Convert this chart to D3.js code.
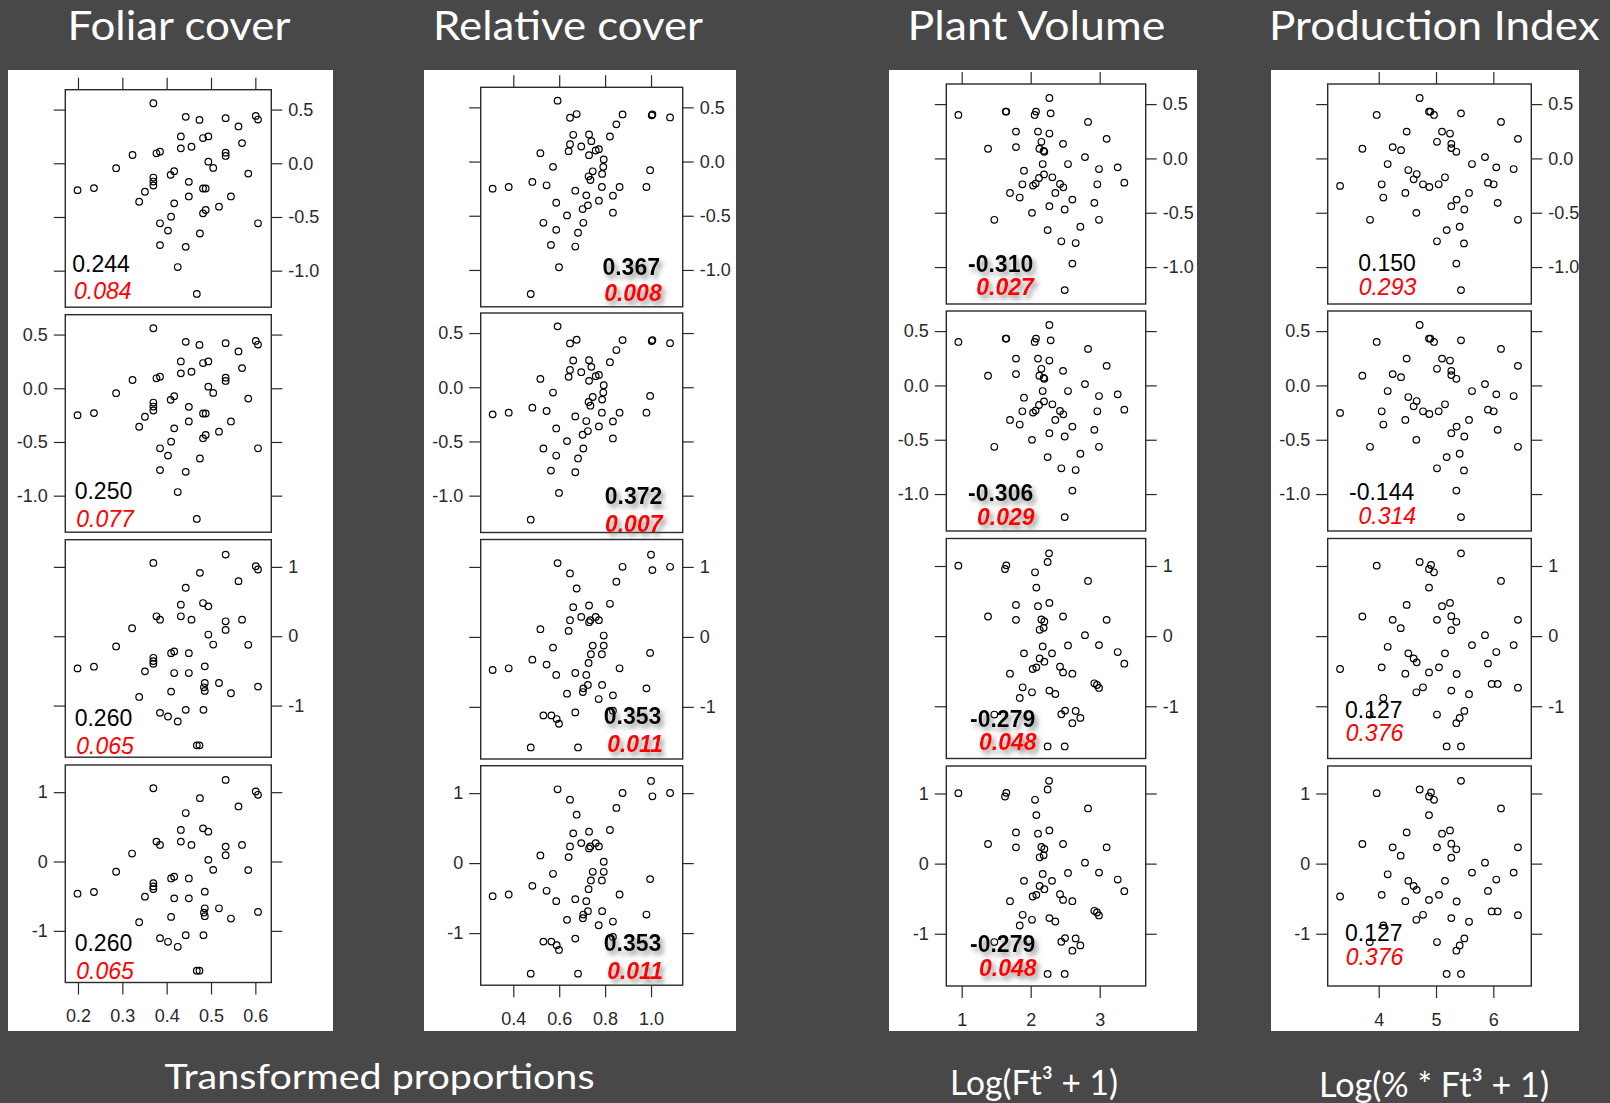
<!DOCTYPE html>
<html>
<head>
<meta charset="utf-8">
<title>Correlation panels</title>
<script src="https://cdnjs.cloudflare.com/ajax/libs/d3/7.8.5/d3.min.js"></script>
<style>
  body { margin: 0; background: #484848; }
  svg { display: block; }
</style>
</head>
<body>
<svg id="chart" width="1610" height="1103"></svg>
<script>
// ---- data ----
const columnTitles = ["Foliar cover", "Relative cover", "Plant Volume", "Production Index"];
const axisTitles = ["Transformed proportions", "Log(Ft\u00B3 + 1)", "Log(% * Ft\u00B3 + 1)"];

// correlation coefficient and p value printed in each panel (rows 1-4)
const rValues = [
  ["0.244", "0.250", "0.260", "0.260"],
  ["0.367", "0.372", "0.353", "0.353"],
  ["-0.310", "-0.306", "-0.279", "-0.279"],
  ["0.150", "-0.144", "0.127", "0.127"]
];
const pValues = [
  ["0.084", "0.077", "0.065", "0.065"],
  ["0.008", "0.007", "0.011", "0.011"],
  ["0.027", "0.029", "0.048", "0.048"],
  ["0.293", "0.314", "0.376", "0.376"]
];

const xTicks = [[0.2, 0.3, 0.4, 0.5, 0.6], [0.4, 0.6, 0.8, 1.0], [1, 2, 3], [4, 5, 6]];
const xTickLabels = [["0.2", "0.3", "0.4", "0.5", "0.6"], ["0.4", "0.6", "0.8", "1.0"], ["1", "2", "3"], ["4", "5", "6"]];
const yTicksTop = [0.5, 0.0, -0.5, -1.0];
const yTickLabelsTop = ["0.5", "0.0", "-0.5", "-1.0"];
const yTicksBottom = [1, 0, -1];
const yTickLabelsBottom = ["1", "0", "-1"];

// points of rows 1-2 (same in both rows) and rows 3-4 (same in both rows)
const foliarTop = [[0.370,0.559],[0.443,0.432],[0.474,0.404],[0.533,0.420],[0.562,0.343],[0.601,0.441],[0.606,0.407],[0.432,0.250],[0.482,0.235],[0.494,0.250],[0.570,0.188],[0.432,0.139],[0.456,0.154],[0.377,0.093],[0.385,0.108],[0.323,0.077],[0.533,0.099],[0.533,0.068],[0.494,0.015],[0.505,-0.043],[0.286,-0.046],[0.417,-0.074],[0.409,-0.108],[0.584,-0.096],[0.370,-0.133],[0.370,-0.170],[0.370,-0.207],[0.450,-0.173],[0.199,-0.250],[0.236,-0.231],[0.351,-0.265],[0.482,-0.235],[0.488,-0.235],[0.338,-0.358],[0.450,-0.309],[0.545,-0.309],[0.417,-0.373],[0.518,-0.404],[0.482,-0.466],[0.488,-0.435],[0.410,-0.497],[0.385,-0.559],[0.403,-0.627],[0.606,-0.559],[0.475,-0.654],[0.385,-0.762],[0.443,-0.778],[0.425,-0.966],[0.468,-1.216]];
const foliarBottom = [[0.533,1.177],[0.370,1.057],[0.601,1.010],[0.606,0.962],[0.475,0.914],[0.562,0.794],[0.443,0.699],[0.432,0.455],[0.482,0.478],[0.494,0.431],[0.377,0.287],[0.385,0.239],[0.432,0.287],[0.456,0.239],[0.322,0.115],[0.533,0.215],[0.533,0.091],[0.570,0.239],[0.494,0.024],[0.505,-0.120],[0.286,-0.148],[0.584,-0.124],[0.410,-0.244],[0.417,-0.220],[0.450,-0.244],[0.370,-0.311],[0.370,-0.359],[0.370,-0.397],[0.199,-0.464],[0.236,-0.440],[0.351,-0.507],[0.417,-0.531],[0.450,-0.531],[0.486,-0.435],[0.486,-0.675],[0.484,-0.737],[0.486,-0.789],[0.518,-0.675],[0.545,-0.823],[0.606,-0.727],[0.410,-0.799],[0.338,-0.876],[0.385,-1.105],[0.403,-1.158],[0.425,-1.230],[0.443,-1.062],[0.483,-1.062],[0.468,-1.574],[0.474,-1.574]];

const relativeTop = [[0.593,0.562],[0.647,0.404],[0.676,0.438],[0.876,0.435],[1.003,0.426],[1.006,0.435],[1.083,0.407],[0.849,0.343],[0.661,0.247],[0.730,0.250],[0.740,0.188],[0.821,0.231],[0.647,0.160],[0.641,0.096],[0.696,0.139],[0.759,0.102],[0.773,0.114],[0.730,0.059],[0.518,0.077],[0.794,0.019],[0.792,-0.049],[0.573,-0.049],[0.746,-0.090],[0.787,-0.114],[0.728,-0.136],[0.736,-0.170],[0.996,-0.080],[0.310,-0.250],[0.380,-0.235],[0.483,-0.188],[0.545,-0.219],[0.670,-0.269],[0.786,-0.235],[0.863,-0.235],[0.980,-0.235],[0.718,-0.312],[0.834,-0.315],[0.587,-0.380],[0.773,-0.361],[0.725,-0.404],[0.702,-0.438],[0.634,-0.497],[0.834,-0.472],[0.531,-0.565],[0.705,-0.565],[0.587,-0.630],[0.682,-0.657],[0.564,-0.769],[0.670,-0.784],[0.599,-0.975],[0.476,-1.222]];
const relativeBottom = [[1.000,1.174],[0.593,1.055],[0.876,1.002],[1.006,0.955],[1.083,1.002],[0.647,0.907],[0.849,0.788],[0.676,0.692],[0.661,0.425],[0.730,0.449],[0.821,0.473],[0.647,0.239],[0.696,0.286],[0.730,0.210],[0.736,0.239],[0.759,0.286],[0.773,0.239],[0.518,0.110],[0.641,0.086],[0.794,0.019],[0.746,-0.124],[0.794,-0.124],[0.573,-0.153],[0.738,-0.248],[0.786,-0.248],[0.996,-0.229],[0.728,-0.372],[0.483,-0.325],[0.545,-0.396],[0.310,-0.473],[0.380,-0.449],[0.863,-0.449],[0.587,-0.544],[0.670,-0.516],[0.718,-0.544],[0.725,-0.687],[0.705,-0.735],[0.703,-0.788],[0.787,-0.687],[0.980,-0.735],[0.634,-0.811],[0.834,-0.835],[0.772,-0.888],[0.531,-1.122],[0.566,-1.122],[0.589,-1.174],[0.599,-1.241],[0.670,-1.079],[0.834,-1.055],[0.476,-1.580],[0.682,-1.580]];

const volumeTop = [[2.271,0.556],[0.952,0.400],[1.638,0.431],[1.647,0.431],[2.077,0.431],[2.058,0.400],[2.290,0.415],[2.831,0.336],[1.787,0.247],[2.106,0.247],[2.271,0.229],[2.155,0.153],[2.469,0.134],[3.101,0.180],[1.382,0.089],[1.787,0.104],[2.126,0.089],[2.188,0.070],[2.198,0.061],[2.787,0.012],[2.174,-0.052],[2.541,-0.052],[2.990,-0.098],[3.261,-0.082],[1.903,-0.113],[2.193,-0.147],[2.121,-0.180],[2.314,-0.174],[1.879,-0.238],[2.034,-0.250],[2.072,-0.232],[2.425,-0.235],[2.473,-0.266],[2.966,-0.238],[3.357,-0.223],[1.700,-0.318],[1.841,-0.360],[2.357,-0.318],[2.604,-0.379],[2.271,-0.440],[2.923,-0.409],[2.493,-0.470],[2.019,-0.501],[1.473,-0.565],[2.990,-0.565],[2.246,-0.660],[2.720,-0.629],[2.444,-0.763],[2.652,-0.779],[2.604,-0.968],[2.493,-1.212]];
const volumeBottom = [[2.266,1.180],[2.246,1.057],[0.952,1.005],[1.647,1.009],[1.628,0.957],[2.063,0.910],[2.831,0.787],[2.082,0.692],[1.787,0.445],[2.106,0.427],[2.271,0.474],[1.382,0.280],[1.787,0.232],[2.155,0.237],[2.198,0.209],[2.188,0.118],[2.130,0.090],[2.469,0.280],[3.101,0.232],[2.787,0.014],[2.174,-0.147],[2.541,-0.133],[2.990,-0.128],[3.261,-0.227],[1.903,-0.246],[2.309,-0.246],[3.357,-0.393],[2.130,-0.318],[2.198,-0.365],[2.029,-0.469],[2.082,-0.445],[2.425,-0.436],[2.469,-0.517],[2.604,-0.536],[1.700,-0.536],[2.923,-0.673],[2.961,-0.697],[2.990,-0.739],[1.884,-0.730],[2.019,-0.801],[2.271,-0.777],[2.357,-0.825],[1.841,-0.882],[1.473,-1.118],[2.444,-1.114],[2.498,-1.062],[2.652,-1.066],[2.720,-1.166],[2.604,-1.242],[2.246,-1.573],[2.493,-1.573]];

const productionTop = [[4.715,0.556],[3.965,0.400],[4.878,0.431],[4.901,0.431],[4.965,0.400],[5.436,0.415],[6.134,0.336],[4.488,0.247],[5.105,0.247],[5.244,0.229],[5.017,0.153],[5.267,0.134],[5.267,0.095],[5.355,0.061],[6.430,0.180],[3.715,0.089],[4.244,0.104],[4.390,0.076],[5.855,0.012],[4.157,-0.052],[5.628,-0.052],[6.052,-0.082],[6.355,-0.098],[4.517,-0.107],[4.663,-0.144],[4.610,-0.192],[5.157,-0.174],[3.326,-0.253],[4.052,-0.238],[4.773,-0.238],[4.884,-0.263],[5.047,-0.238],[5.907,-0.223],[6.006,-0.238],[4.081,-0.360],[4.465,-0.318],[5.576,-0.318],[5.360,-0.379],[5.267,-0.440],[6.076,-0.409],[5.494,-0.470],[4.657,-0.501],[3.849,-0.565],[6.430,-0.565],[5.186,-0.660],[5.413,-0.629],[5.017,-0.763],[5.488,-0.782],[5.355,-0.968],[5.436,-1.212]];
const productionBottom = [[5.436,1.180],[3.965,1.005],[4.715,1.057],[4.913,1.014],[4.878,0.957],[4.965,0.910],[6.134,0.787],[4.878,0.692],[4.488,0.445],[5.105,0.427],[5.244,0.474],[3.715,0.280],[4.244,0.232],[5.017,0.232],[5.267,0.284],[5.355,0.204],[5.267,0.085],[6.430,0.232],[4.384,0.114],[5.855,0.014],[5.628,-0.128],[6.355,-0.128],[4.157,-0.152],[4.517,-0.246],[4.610,-0.318],[4.663,-0.374],[5.157,-0.246],[6.052,-0.227],[5.907,-0.389],[3.326,-0.469],[4.052,-0.445],[4.465,-0.536],[4.878,-0.517],[5.052,-0.445],[5.360,-0.540],[5.971,-0.682],[6.076,-0.682],[6.430,-0.735],[4.773,-0.730],[4.657,-0.801],[5.267,-0.777],[5.576,-0.829],[4.081,-0.882],[3.843,-1.118],[5.017,-1.118],[5.494,-1.066],[5.413,-1.166],[5.355,-1.242],[5.186,-1.573],[5.436,-1.573]];

const pointsTop = [foliarTop, relativeTop, volumeTop, productionTop];
const pointsBottom = [foliarBottom, relativeBottom, volumeBottom, productionBottom];

// ---- layout ----
const W = 1610, H = 1103;
const yDomainTop = [-1.34, 0.685];
const yDomainBottom = [-1.745, 1.392];

// one entry per column: white card, plot box, x domain, row tops, label spots
const layout = [
  { card: [8, 70, 333, 1031], x0: 65.3, x1: 271.3, xDomain: [0.1714, 0.636], tops: [89.7, 314.7, 539.7, 765], h: 217.5,
    anchor: "start", bold: false,
    labels: [[72.3, 272, 74, 299], [74.7, 498.7, 76.3, 526.7], [74.7, 725.7, 76.3, 754.3], [74.7, 950.7, 76.3, 979.3]] },
  { card: [424, 70, 736, 1031], x0: 480.7, x1: 682.7, xDomain: [0.258, 1.138], tops: [87.3, 313, 539.5, 765.7], h: 219.5,
    anchor: "end", bold: true,
    labels: [[660, 274.7, 661.7, 301.3], [662.3, 504, 662.5, 532], [661.3, 724.3, 663, 752.3], [661.3, 951, 663, 979]] },
  { card: [889, 70, 1197, 1031], x0: 946.3, x1: 1145.7, xDomain: [0.777, 3.667], tops: [84, 311, 538.5, 766], h: 220,
    anchor: "start", bold: true,
    labels: [[968, 272, 976.3, 295.3], [968, 501, 977, 524.5], [970, 726.7, 979, 750], [970, 952, 979, 975.5]] },
  { card: [1271, 70, 1579, 1031], x0: 1327.7, x1: 1531.3, xDomain: [3.11, 6.663], tops: [84, 311, 538.5, 766], h: 220,
    anchor: "start", bold: false,
    labels: [[1358.3, 271.3, 1358.7, 294.7], [1349, 500, 1358.5, 523.7], [1345, 717.5, 1345.7, 740.5], [1345, 941, 1345.7, 965]] }
];

const titleSpots = [[67.5, 223], [433, 270], [907.6, 257.7], [1269, 330.6]];
const axisTitleSpots = [[164.5, 430, 1089], [950, 168, 1095], [1319, 230, 1097]];

const tickFont = "'Liberation Sans', Arial, sans-serif";
const slideFont = "Lato, 'Open Sans', sans-serif";

const svg = d3.select("#chart");
svg.append("rect").attr("width", W).attr("height", H).attr("fill", "#484848");

const defs = svg.append("defs");
const shadow = defs.append("filter").attr("id", "shadow")
  .attr("x", "-20%").attr("y", "-40%").attr("width", "150%").attr("height", "200%");
shadow.append("feGaussianBlur").attr("in", "SourceAlpha").attr("stdDeviation", 2.6).attr("result", "blur");
shadow.append("feOffset").attr("in", "blur").attr("dx", 3).attr("dy", 4).attr("result", "off");
shadow.append("feFlood").attr("flood-color", "#6f6f6f").attr("flood-opacity", 0.75);
shadow.append("feComposite").attr("in2", "off").attr("operator", "in").attr("result", "shade");
const merge = shadow.append("feMerge");
merge.append("feMergeNode").attr("in", "shade");
merge.append("feMergeNode").attr("in", "SourceGraphic");

function styleAxis(sel) {
  sel.select(".domain").remove();
  sel.selectAll(".tick line").attr("stroke", "#2a2a2a").attr("stroke-width", 1.2);
  sel.selectAll(".tick text").attr("fill", "#2a2a2a")
    .attr("font-family", tickFont).attr("font-size", "18px");
}

layout.forEach(function(L, ci) {
  const c = L.card;
  defs.append("clipPath").attr("id", "clip" + ci)
    .append("rect").attr("x", c[0]).attr("y", c[1]).attr("width", c[2] - c[0]).attr("height", c[3] - c[1]);

  const g = svg.append("g").attr("clip-path", "url(#clip" + ci + ")");
  g.append("rect").attr("x", c[0]).attr("y", c[1]).attr("width", c[2] - c[0]).attr("height", c[3] - c[1])
    .attr("fill", "#ffffff");

  const x = d3.scaleLinear().domain(L.xDomain).range([L.x0, L.x1]);

  for (let r = 0; r < 4; r++) {
    const top = L.tops[r], bottom = top + L.h;
    const upper = r < 2;
    const y = d3.scaleLinear().domain(upper ? yDomainTop : yDomainBottom).range([bottom, top]);
    const yt = upper ? yTicksTop : yTicksBottom;
    const ytl = upper ? yTickLabelsTop : yTickLabelsBottom;
    const panel = g.append("g");

    // left axis: labels on rows 2 and 4
    panel.append("g").attr("transform", "translate(" + L.x0 + ",0)")
      .call(d3.axisLeft(y).tickValues(yt).tickSize(11.5).tickPadding(6)
        .tickFormat(function(d, i) { return r % 2 === 1 ? ytl[i] : ""; }))
      .call(styleAxis);
    // right axis: labels on rows 1 and 3
    panel.append("g").attr("transform", "translate(" + L.x1 + ",0)")
      .call(d3.axisRight(y).tickValues(yt).tickSize(11).tickPadding(6)
        .tickFormat(function(d, i) { return r % 2 === 0 ? ytl[i] : ""; }))
      .call(styleAxis);
    if (r === 0) {
      panel.append("g").attr("transform", "translate(0," + top + ")")
        .call(d3.axisTop(x).tickValues(xTicks[ci]).tickSize(12).tickFormat(""))
        .call(styleAxis);
    }
    if (r === 3) {
      panel.append("g").attr("transform", "translate(0," + bottom + ")")
        .call(d3.axisBottom(x).tickValues(xTicks[ci]).tickSize(12).tickPadding(15)
          .tickFormat(function(d, i) { return xTickLabels[ci][i]; }))
        .call(styleAxis);
    }

    panel.append("rect").attr("x", L.x0).attr("y", top)
      .attr("width", L.x1 - L.x0).attr("height", L.h)
      .attr("fill", "none").attr("stroke", "#2a2a2a").attr("stroke-width", 1.4);

    panel.selectAll("circle")
      .data(upper ? pointsTop[ci] : pointsBottom[ci])
      .enter()
      .append("circle")
      .attr("cx", function(d) { return x(d[0]); })
      .attr("cy", function(d) { return y(d[1]); })
      .attr("r", 3.3)
      .attr("fill", "none")
      .attr("stroke", "#000")
      .attr("stroke-width", 1.2);

    const p = L.labels[r];
    panel.append("text")
      .attr("x", p[0]).attr("y", p[1])
      .attr("text-anchor", L.anchor)
      .attr("font-family", tickFont).attr("font-size", "23px")
      .attr("font-weight", L.bold ? "bold" : "normal")
      .attr("filter", L.bold ? "url(#shadow)" : null)
      .attr("fill", "#000")
      .text(rValues[ci][r]);
    panel.append("text")
      .attr("x", p[2]).attr("y", p[3])
      .attr("text-anchor", L.anchor)
      .attr("font-family", tickFont).attr("font-size", "23px")
      .attr("font-weight", L.bold ? "bold" : "normal")
      .attr("font-style", "italic")
      .attr("filter", L.bold ? "url(#shadow)" : null)
      .attr("fill", "#ff0000")
      .text(pValues[ci][r]);
  }
});

// column titles
svg.selectAll("text.title")
  .data(columnTitles)
  .enter()
  .append("text")
  .attr("class", "title")
  .attr("x", function(d, i) { return titleSpots[i][0]; })
  .attr("y", 39.5)
  .attr("textLength", function(d, i) { return titleSpots[i][1]; })
  .attr("lengthAdjust", "spacingAndGlyphs")
  .attr("font-family", slideFont).attr("font-size", "41px")
  .attr("fill", "#ffffff")
  .text(function(d) { return d; });

// axis titles under the columns
svg.selectAll("text.axtitle")
  .data(axisTitles)
  .enter()
  .append("text")
  .attr("class", "axtitle")
  .attr("x", function(d, i) { return axisTitleSpots[i][0]; })
  .attr("y", function(d, i) { return axisTitleSpots[i][2]; })
  .attr("textLength", function(d, i) { return axisTitleSpots[i][1]; })
  .attr("lengthAdjust", "spacingAndGlyphs")
  .attr("font-family", slideFont).attr("font-size", "35px")
  .attr("fill", "#ffffff")
  .text(function(d) { return d; });
</script>
</body>
</html>
